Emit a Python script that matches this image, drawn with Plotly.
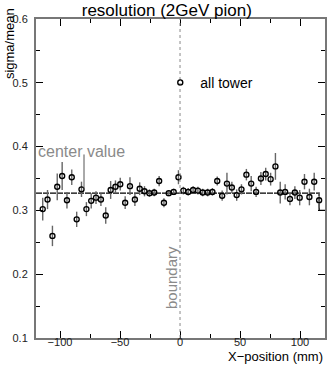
import plotly.graph_objects as go

# x-position of each tower scan point (mm)
x_pos = [
    -114.4, -110.4, -106.3, -102.3, -98.2, -94.2, -90.2, -86.1, -82.1, -78.0,
    -74.0, -70.0, -65.9, -61.9, -57.8, -53.8, -49.8, -45.7, -41.7, -37.6,
    -33.6, -29.6, -25.5, -21.5, -17.4, -13.4, -9.4, -5.3, -1.3, 2.8,
    6.8, 10.9, 14.9, 18.9, 23.0, 27.0, 31.0, 35.1, 39.1, 43.2,
    47.2, 51.2, 55.3, 59.3, 63.4, 67.4, 71.4, 75.5, 79.5, 83.5,
    87.6, 91.6, 95.7, 99.7, 103.7, 107.8, 111.8, 115.9,
]
# sigma/mean at each position
resolution = [
    0.302, 0.317, 0.260, 0.337, 0.354, 0.316, 0.352, 0.286, 0.333, 0.302,
    0.315, 0.320, 0.317, 0.292, 0.332, 0.337, 0.341, 0.312, 0.338, 0.317,
    0.334, 0.330, 0.327, 0.328, 0.346, 0.312, 0.327, 0.329, 0.352, 0.331,
    0.329, 0.332, 0.331, 0.328, 0.328, 0.329, 0.346, 0.323, 0.342, 0.336,
    0.324, 0.333, 0.356, 0.342, 0.329, 0.350, 0.357, 0.349, 0.369, 0.328,
    0.329, 0.318, 0.328, 0.320, 0.345, 0.321, 0.345, 0.316,
]
errors = [
    0.018, 0.015, 0.016, 0.021, 0.022, 0.013, 0.012, 0.012, 0.012, 0.011,
    0.012, 0.010, 0.010, 0.013, 0.014, 0.010, 0.010, 0.010, 0.014, 0.010,
    0.010, 0.008, 0.006, 0.006, 0.008, 0.007, 0.005, 0.005, 0.011, 0.006,
    0.006, 0.006, 0.006, 0.006, 0.006, 0.006, 0.007, 0.008, 0.017, 0.009,
    0.009, 0.008, 0.009, 0.012, 0.008, 0.010, 0.010, 0.010, 0.021, 0.017,
    0.012, 0.010, 0.010, 0.012, 0.012, 0.013, 0.014, 0.012,
]

# center value reference line (with the step at the right edge)
center_x = [-120, 115.9, 115.9, 121]
center_y = [0.327, 0.327, 0.300, 0.300]

FONT = "Liberation Sans, Arial, sans-serif"
GRAY = "#8a8a8a"

fig = go.Figure()
fig.add_trace(
    go.Scatter(
        x=center_x,
        y=center_y,
        mode="lines",
        line={"color": "black", "width": 1.3, "dash": "6px,1px"},
        showlegend=False,
        hoverinfo="skip",
    )
)
fig.add_trace(
    go.Scatter(
        x=x_pos,
        y=resolution,
        mode="markers",
        name="all tower",
        marker={
            "symbol": "circle-open",
            "size": 5,
            "color": "black",
            "line": {"width": 1.4, "color": "black"},
        },
        error_y={
            "type": "data",
            "array": errors,
            "color": "#666666",
            "thickness": 1.4,
            "width": 0,
        },
    )
)

fig.add_vline(x=0, line={"color": GRAY, "width": 1, "dash": "dot"})

fig.add_annotation(
    x=-80, y=0.332, ax=-80, ay=0.39, axref="x", ayref="y",
    showarrow=True, arrowhead=0, arrowwidth=1, arrowcolor="#555555", text="",
)
fig.add_annotation(
    x=-120, y=0.392, xanchor="left", yanchor="middle", showarrow=False,
    text="center value", font={"family": FONT, "size": 16, "color": GRAY},
)
fig.add_annotation(
    x=-7.5, y=0.194, xanchor="center", yanchor="middle", showarrow=False,
    text="boundary", textangle=-90,
    font={"family": FONT, "size": 15, "color": GRAY},
)
fig.add_annotation(
    xref="paper", yref="paper", x=-0.125, y=1.04, xanchor="left",
    yanchor="top", showarrow=False, text="sigma/mean", textangle=-90,
    font={"family": FONT, "size": 13, "color": "black"},
)
fig.add_annotation(
    xref="paper", yref="paper", x=1.0, y=-0.058, xanchor="right",
    yanchor="middle", showarrow=False, text="X\u2212position (mm)",
    font={"family": FONT, "size": 13, "color": "black"},
)

axis_common = {
    "automargin": False,
    "showgrid": False,
    "zeroline": False,
    "showline": True,
    "linecolor": "#777777",
    "linewidth": 2,
    "mirror": "allticks",
    "ticks": "inside",
    "ticklen": 7,
    "tickwidth": 1.2,
    "tickcolor": "black",
    "tickfont": {"family": FONT, "size": 11, "color": "#222222"},
}
fig.update_xaxes(
    range=[-120, 120.8], tickvals=[-100, -50, 0, 50, 100],
    ticktext=["\u2212100", "\u221250", "0", "50", "100"],
    ticklabelstandoff=-7,
    minor={"ticks": "inside", "ticklen": 4, "tickvals": [-75, -25, 25, 75],
           "tickcolor": "black"},
    **axis_common,
)
fig.update_yaxes(
    range=[0.1, 0.6], tickvals=[0.1, 0.2, 0.3, 0.4, 0.5, 0.6],
    ticktext=["0.1", "0.2", "0.3", "0.4", "0.5", "0.6"],
    ticklabelstandoff=4,
    minor={"ticks": "inside", "ticklen": 4,
           "tickvals": [0.15, 0.25, 0.35, 0.45, 0.55], "tickcolor": "black"},
    **axis_common,
)
fig.update_layout(
    width=327,
    height=367,
    margin={"l": 36, "r": 2, "t": 19, "b": 29, "autoexpand": False},
    paper_bgcolor="white",
    plot_bgcolor="white",
    title={"text": "resolution (2GeV pion)", "x": 0.51, "xanchor": "center",
           "y": 0.972, "yanchor": "middle", "automargin": False,
           "font": {"family": FONT, "size": 17, "color": "black"}},
    showlegend=True,
    legend={"x": 0.43, "y": 0.80, "xanchor": "left", "yanchor": "middle",
            "bgcolor": "rgba(0,0,0,0)",
            "font": {"family": FONT, "size": 14, "color": "black"}},
)

# the page body has a default 8px margin; remove it so the figure fills the window
fig.write_html(
    "out.html",
    config={"displayModeBar": False},
    post_script="document.body.style.margin='0';document.body.style.overflow='hidden';",
)
